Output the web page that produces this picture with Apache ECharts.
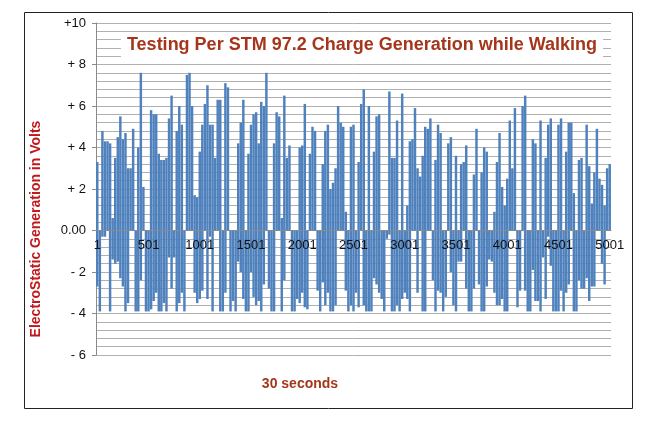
<!DOCTYPE html>
<html>
<head>
<meta charset="utf-8">
<script src="https://cdn.jsdelivr.net/npm/echarts@6/dist/echarts.min.js"></script>
<style>
  html, body { margin: 0; padding: 0; background: #fff; }
  #chart { width: 648px; height: 429px; }
</style>
</head>
<body>
<div id="chart"></div>
<script>
// samples every 25 readings, 1 .. 5001
const sampleStep = 25
const xCategories = Array.from({ length: 201 }, (_, k) => String(1 + k * sampleStep))

// positive peak per sample (volts)
const positiveVolts = [
  3.3, 0, 4.8, 4.3, 4.3, 4.2, 0.6, 3.5, 4.5, 5.5,
  4.4, 4.7, 3.0, 3.0, 4.9, 0, 4.0, 7.6, 2.1, 0,
  0, 5.8, 5.6, 5.6, 3.7, 3.4, 3.4, 3.5, 5.4, 6.5,
  0, 4.8, 6.0, 5.1, 0, 7.5, 7.6, 6.0, 1.7, 1.6,
  3.8, 5.1, 6.1, 7.0, 5.1, 5.1, 3.5, 6.3, 6.3, 0,
  7.1, 6.9, 0, 0, 0, 4.2, 5.2, 6.3, 0, 3.7,
  5.1, 5.6, 5.7, 4.2, 6.2, 6.0, 7.6, 0, 0, 4.2,
  5.7, 5.5, 0.6, 6.5, 3.5, 4.1, 0, 0, 0, 4.0,
  4.1, 6.1, 0, 3.7, 5.0, 4.8, 0, 0, 3.2, 4.8,
  5.1, 2.0, 2.3, 3.0, 6.0, 5.2, 5.0, 0.9, 0, 5.0,
  5.1, 0, 3.3, 6.1, 6.8, 0, 6.0, 0, 3.8, 5.5,
  5.6, 0, 0, 0, 6.7, 3.5, 3.5, 5.3, 0, 6.6,
  0, 1.2, 4.3, 4.4, 5.9, 3.0, 2.6, 3.6, 5.0, 4.9,
  5.4, 0, 3.4, 5.1, 4.7, 0, 0, 4.2, 4.5, 0,
  3.6, 0, 3.2, 3.3, 4.1, 0, 0, 2.7, 4.9, 0,
  2.8, 4.0, 3.8, 0, 0, 0.9, 3.3, 4.7, 2.1, 1.2,
  2.5, 5.3, 3.0, 5.9, 0, 0, 6.0, 6.5, 0, 0,
  4.4, 4.2, 0, 5.3, 0, 3.5, 5.1, 5.4, 0, 0,
  5.1, 5.4, 0, 3.8, 5.2, 5.2, 1.8, 0, 3.4, 3.5,
  0, 5.1, 3.1, 1.3, 2.8, 4.9, 2.5, 2.2, 1.2, 3.0,
  3.2
]

// negative trough per sample (volts)
const negativeVolts = [
  -2.7, -3.9, -0.3, -0.3, 0, -3.9, -1.4, -1.6, -1.5, -2.3,
  -2.7, -3.9, -3.5, 0, 0, -3.9, -3.9, -2.4, 0, -3.9,
  -3.9, -3.8, -3.4, -3.0, -3.9, -3.9, -3.5, -3.9, -1.3, -2.8,
  -1.3, -3.9, -3.5, -3.0, -3.9, 0, 0, 0, -3.0, -3.5,
  -3.3, -2.9, 0, -3.3, -0.3, -3.9, 0, 0, -3.9, -3.9,
  -3.0, 0, -3.9, -3.4, -3.9, -1.5, -2.0, -3.3, -3.9, -3.9,
  -2.0, -3.2, -3.6, -3.4, -3.9, -2.6, 0, -2.8, -3.9, -3.9,
  0, 0, -3.9, -2.4, 0, 0, -3.9, -3.9, -3.3, -3.5,
  -3.0, -3.7, -3.8, 0, 0, 0, -2.9, -3.9, -2.5, -3.6,
  -3.0, -3.9, -3.9, -3.6, 0, 0, 0, -2.9, -3.9, -3.6,
  -3.9, -3.0, -3.7, 0, -3.6, -3.9, -3.9, -3.9, -2.3, -2.6,
  -3.0, -3.3, -3.9, -0.4, -0.2, -3.9, -3.9, -3.6, -3.9, -3.3,
  -3.0, -3.3, -3.9, 0, 0, -3.0, 0, -3.9, -3.9, 0,
  0, -2.4, -3.9, -2.9, -3.0, -3.9, -3.2, 0, -2.0, -3.6,
  -3.9, -1.5, -1.5, 0, -2.8, -3.9, -3.9, -2.8, 0, -2.6,
  -3.9, -3.9, -2.7, -1.4, -1.5, -3.0, -3.6, -3.6, -3.3, -3.9,
  -3.9, 0, 0, 0, -3.7, -2.9, 0, -2.9, -3.9, -3.9,
  -1.9, -3.4, -3.4, -3.9, -1.3, -3.3, -0.3, -1.7, -3.9, -3.9,
  -3.9, -2.9, -3.9, -3.0, -2.6, 0, -3.9, -3.9, -2.4, -2.8,
  -2.8, -2.3, -3.4, -2.7, -2.7, 0, 0, -1.6, -2.6, 0,
  0
]

const yTickLabels = ['- 6', '- 4', '- 2', '0.00', '+ 2', '+ 4', '+ 6', '+ 8', '+10']
const xLabelEvery = 20

const chart = echarts.init(document.getElementById('chart'))

const option = {
  animation: false,
  backgroundColor: '#fff',
  title: {
    text: 'Testing Per STM 97.2 Charge Generation while Walking',
    left: 356,
    top: 33,
    textAlign: 'center',
    backgroundColor: '#fff',
    padding: [3, 6],
    textStyle: {
      color: '#a5361c',
      fontFamily: 'Liberation Sans',
      fontWeight: 'bold',
      fontSize: 18
    }
  },
  grid: {
    left: 96,
    right: 37,
    top: 23,
    bottom: 74
  },
  xAxis: {
    type: 'category',
    data: xCategories,
    z: 5,
    // axis sits on the 0.00 line (125px above the bottom of the grid)
    offset: -125,
    axisLine: { onZero: false, lineStyle: { color: '#8a8a8a', width: 1 } },
    axisTick: { show: false },
    axisLabel: {
      interval: xLabelEvery - 1,
      margin: 9,
      color: '#111',
      fontFamily: 'Liberation Sans',
      fontSize: 13
    },
    splitLine: { show: false }
  },
  yAxis: {
    type: 'value',
    min: -6,
    max: 10,
    interval: 2,
    axisLine: { show: true, lineStyle: { color: '#8a8a8a' } },
    axisTick: { show: true, length: 4, lineStyle: { color: '#8a8a8a' } },
    axisLabel: {
      margin: 10,
      color: '#111',
      fontFamily: 'Liberation Sans',
      fontSize: 13,
      formatter: function (v) {
        return yTickLabels[Math.round((v + 6) / 2)]
      }
    },
    splitLine: { show: true, lineStyle: { color: '#b0b0b0', width: 1 } },
    minorTick: { show: false, splitNumber: 5 },
    minorSplitLine: { show: true, lineStyle: { color: '#b0b0b0', width: 1 } }
  },
  series: [
    {
      name: 'positive',
      type: 'bar',
      stack: 'volts',
      barCategoryGap: '4%',
      itemStyle: { color: '#4f81bd' },
      data: positiveVolts
    },
    {
      name: 'negative',
      type: 'bar',
      stack: 'volts',
      barCategoryGap: '4%',
      itemStyle: { color: '#4f81bd' },
      data: negativeVolts
    }
  ],
  graphic: [
    {
      type: 'rect',
      shape: { x: 24.5, y: 12.5, width: 608, height: 396 },
      style: { fill: 'none', stroke: '#222', lineWidth: 1 },
      silent: true
    },
    {
      type: 'text',
      x: 36,
      y: 229,
      rotation: Math.PI / 2,
      style: {
        text: 'ElectroStatic Generation in Volts',
        fill: '#c0181c',
        font: 'bold 14px "Liberation Sans"',
        textAlign: 'center',
        textVerticalAlign: 'middle'
      }
    },
    {
      type: 'text',
      x: 300,
      y: 384,
      style: {
        text: '30 seconds',
        fill: '#a5361c',
        font: 'bold 14px "Liberation Sans"',
        textAlign: 'center',
        textVerticalAlign: 'middle'
      }
    }
  ]
}

chart.setOption(option)
</script>
</body>
</html>
